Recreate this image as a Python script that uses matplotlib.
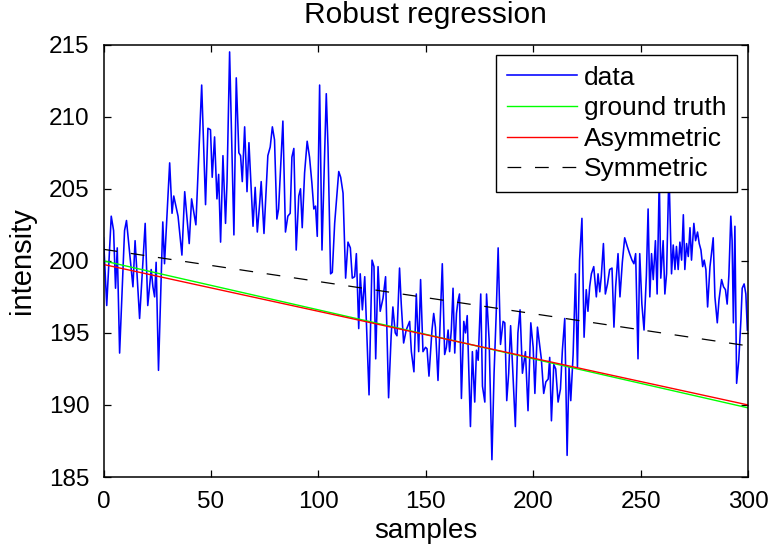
import matplotlib
matplotlib.use("Agg")
import matplotlib.pyplot as plt
import numpy as np

# ---- data ----
sample_pos = [0.0, 1.5, 3.6, 4.7, 5.6, 6.4, 7.5, 9.8, 10.7, 13.7, 14.7, 16.8, 19.4, 20.6, 22.2, 23.0, 23.8, 24.5,
              25.6, 27.6, 28.4, 30.8, 31.9, 32.7, 34.7, 36.5, 37.8, 39.9, 41.0, 43.0, 45.7, 47.5, 48.6, 49.8,
              50.6, 51.7, 52.8, 53.6, 54.5, 55.6, 56.8, 57.5, 58.7, 60.7, 61.8, 63.0, 63.8, 64.6, 65.7, 66.8,
              67.7, 69.6, 70.6, 71.6, 72.7, 73.4, 74.7, 76.5, 77.6, 78.6, 79.6, 80.7, 81.5, 83.5, 84.7, 85.8,
              86.9, 87.7, 88.6, 89.7, 90.9, 91.7, 92.5, 93.6, 94.8, 95.9, 97.0, 97.9, 98.7, 99.5, 100.6, 101.7,
              103.7, 104.5, 105.7, 106.5, 107.6, 109.5, 110.4, 111.5, 112.7, 113.8, 114.9, 115.8, 116.9, 117.7,
              118.8, 119.5, 120.5, 121.6, 122.7, 123.6, 125.0, 125.9, 126.7, 127.8, 128.8, 130.1, 131.3, 132.7,
              133.9, 134.7, 135.8, 136.6, 137.8, 138.6, 139.7, 140.9, 142.5, 143.3, 144.5, 145.6, 146.7, 147.6,
              148.7, 149.9, 150.6, 151.5, 152.9, 153.7, 154.5, 155.7, 156.8, 157.7, 158.8, 159.6, 160.4, 161.1,
              161.9, 162.7, 163.5, 164.3, 165.0, 165.7, 166.6, 167.7, 168.5, 169.3, 170.8, 171.7, 172.8, 173.6,
              174.4, 175.6, 176.4, 177.5, 178.3, 179.5, 180.8, 181.8, 182.8, 183.7, 184.8, 186.0, 186.8, 187.7,
              188.6, 189.5, 190.5, 191.7, 192.9, 193.9, 195.0, 196.4, 197.6, 198.9, 200.0, 200.8, 202.0, 203.8,
              204.9, 205.9, 207.0, 207.7, 208.5, 209.6, 210.5, 211.6, 212.7, 213.6, 214.7, 215.8, 216.7, 217.5,
              218.6, 219.7, 220.6, 221.6, 222.7, 223.7, 224.7, 225.5, 226.3, 227.1, 228.2, 229.4, 230.2, 231.0,
              231.7, 232.7, 233.6, 234.6, 235.6, 236.7, 237.6, 238.4, 239.5, 240.4, 241.5, 242.6, 243.8, 244.9,
              246.0, 246.9, 247.7, 248.8, 249.6, 250.6, 251.6, 252.7, 253.5, 254.3, 255.1, 255.9, 256.9, 257.7,
              258.7, 259.4, 260.5, 261.3, 262.1, 263.2, 264.4, 265.2, 266.0, 266.7, 267.5, 268.3, 269.1, 269.9,
              270.6, 271.4, 272.2, 273.0, 273.7, 274.8, 275.6, 276.5, 277.3, 278.1, 278.9, 279.6, 280.4, 281.2,
              282.3, 283.0, 283.8, 284.6, 285.7, 286.5, 287.7, 288.6, 289.5, 290.3, 291.1, 292.0, 292.6, 293.2,
              293.9, 294.7, 295.7, 296.7, 297.3, 298.2, 299.0, 299.7]
data_vals = [201.6, 196.9, 203.1, 202.1, 198.1, 200.9, 193.6, 202.1, 202.8, 198.2, 201.4, 196.0, 202.6, 196.9, 199.4,
             198.2, 197.5, 199.9, 192.4, 202.7, 199.8, 206.8, 203.3, 204.5, 203.1, 200.4, 204.8, 201.2, 204.3,
             202.5, 212.2, 203.9, 209.2, 209.1, 205.8, 208.6, 204.3, 206.0, 201.3, 207.3, 202.6, 205.5, 214.5,
             201.8, 212.7, 207.5, 207.3, 205.5, 209.3, 204.8, 208.2, 202.4, 205.1, 202.0, 204.0, 205.5, 201.9,
             207.3, 207.9, 209.3, 208.4, 202.9, 203.6, 209.7, 202.0, 203.1, 203.3, 207.2, 207.8, 200.75, 204.5,
             205.0, 202.3, 206.1, 208.3, 207.2, 205.4, 203.6, 203.8, 201.7, 212.2, 200.75, 211.6, 207.9, 199.1,
             199.2, 202.6, 206.2, 205.8, 204.7, 198.8, 201.3, 200.9, 198.8, 198.9, 200.5, 195.3, 199.1, 196.6,
             198.9, 194.5, 190.7, 200.05, 199.6, 193.2, 199.6, 196.5, 197.4, 198.9, 190.5, 194.8, 196.8, 195.0,
             194.8, 199.5, 197.0, 194.3, 195.2, 195.8, 193.7, 192.3, 197.7, 193.7, 198.7, 193.7, 194.0, 193.9,
             192.0, 195.2, 196.35, 195.4, 191.7, 196.1, 199.8, 193.5, 194.0, 195.2, 193.7, 195.2, 198.1, 193.6,
             196.35, 197.2, 197.7, 190.45, 195.8, 195.0, 196.2, 188.5, 193.7, 190.2, 193.8, 193.1, 197.7, 191.3,
             190.2, 197.7, 194.5, 186.2, 192.2, 196.35, 200.9, 194.2, 195.8, 195.7, 190.3, 192.2, 195.5, 192.4,
             188.5, 195.0, 196.6, 192.2, 193.7, 189.6, 195.7, 194.0, 190.8, 195.4, 193.2, 190.8, 191.6, 191.8,
             193.3, 188.9, 192.8, 192.5, 190.2, 191.1, 193.8, 196.0, 186.5, 192.6, 190.3, 193.5, 199.1, 192.6,
             200.05, 202.95, 194.7, 198.0, 196.5, 198.2, 199.1, 199.6, 197.5, 199.1, 197.85, 198.9, 201.2, 197.7,
             198.4, 199.4, 199.5, 195.4, 198.2, 200.5, 197.5, 199.9, 201.6, 201.0, 200.5, 200.05, 199.8, 200.5,
             193.2, 200.5, 197.0, 195.2, 199.0, 203.6, 197.5, 200.5, 198.7, 201.4, 197.7, 205.8, 198.8, 201.4,
             197.7, 199.1, 206.3, 199.1, 201.1, 199.4, 201.0, 199.4, 201.3, 200.05, 203.2, 199.4, 201.2, 200.3,
             202.3, 200.05, 202.6, 201.4, 202.0, 201.2, 200.75, 199.6, 200.05, 199.4, 196.8, 199.6, 200.5, 201.6,
             197.5, 195.7, 197.3, 198.7, 198.2, 198.0, 197.0, 199.0, 203.1, 201.4, 195.7, 202.4, 191.5, 193.1,
             195.9, 198.1, 198.4, 197.7, 195.2]

fit_x = [0, 300]
ground_truth = [200.0, 189.8]
asymmetric = [199.75, 190.0]
symmetric = [200.8, 194.1]

x_ticks = [0, 50, 100, 150, 200, 250, 300]
y_ticks = [185, 190, 195, 200, 205, 210, 215]

plt.rcParams['font.family'] = ['Liberation Sans', 'DejaVu Sans']

W, H = 773, 546
fig = plt.figure(figsize=(W / 100, H / 100), dpi=100)
ax = fig.add_axes([103.5 / W, 1 - 477 / H, (748 - 103.5) / W, (477 - 44.7) / H])

ax.plot(sample_pos, data_vals, color=(0, 0, 1), lw=1.15, label='data')
ax.plot(fit_x, ground_truth, color=(0, 1, 0), lw=1.0, label='ground truth')
ax.plot(fit_x, asymmetric, color=(1, 0, 0), lw=1.0, label='Asymmetric')
ax.plot(fit_x, symmetric, color='black', lw=0.9, linestyle=(0, (11, 11)), label='Symmetric')

ax.set_xlim(0, 300)
ax.set_ylim(185, 215)
ax.set_xticks(x_ticks)
ax.set_yticks(y_ticks)
ax.tick_params(direction='in', length=5, width=0.9, top=True, right=True, labelsize=17.5)
ax.tick_params(axis='y', pad=10)
ax.tick_params(axis='x', pad=10)
for s in ax.spines.values():
    s.set_linewidth(1.1)

ax.set_title('Robust regression', fontsize=21.5, pad=15.5)
ax.set_xlabel('samples', fontsize=20, labelpad=3.5)
ax.set_ylabel('intensity', fontsize=21, labelpad=9)

leg = ax.legend(loc='upper right', bbox_to_anchor=(737 / W, 1 - 55 / H), bbox_transform=fig.transFigure,
                borderaxespad=0, fontsize=19, frameon=True, fancybox=False,
                edgecolor='black', framealpha=1, handlelength=2.65, handletextpad=0.27,
                labelspacing=0.25, borderpad=0.4)
leg.get_frame().set_linewidth(1.0)

fig.savefig('out.png', dpi=100)
